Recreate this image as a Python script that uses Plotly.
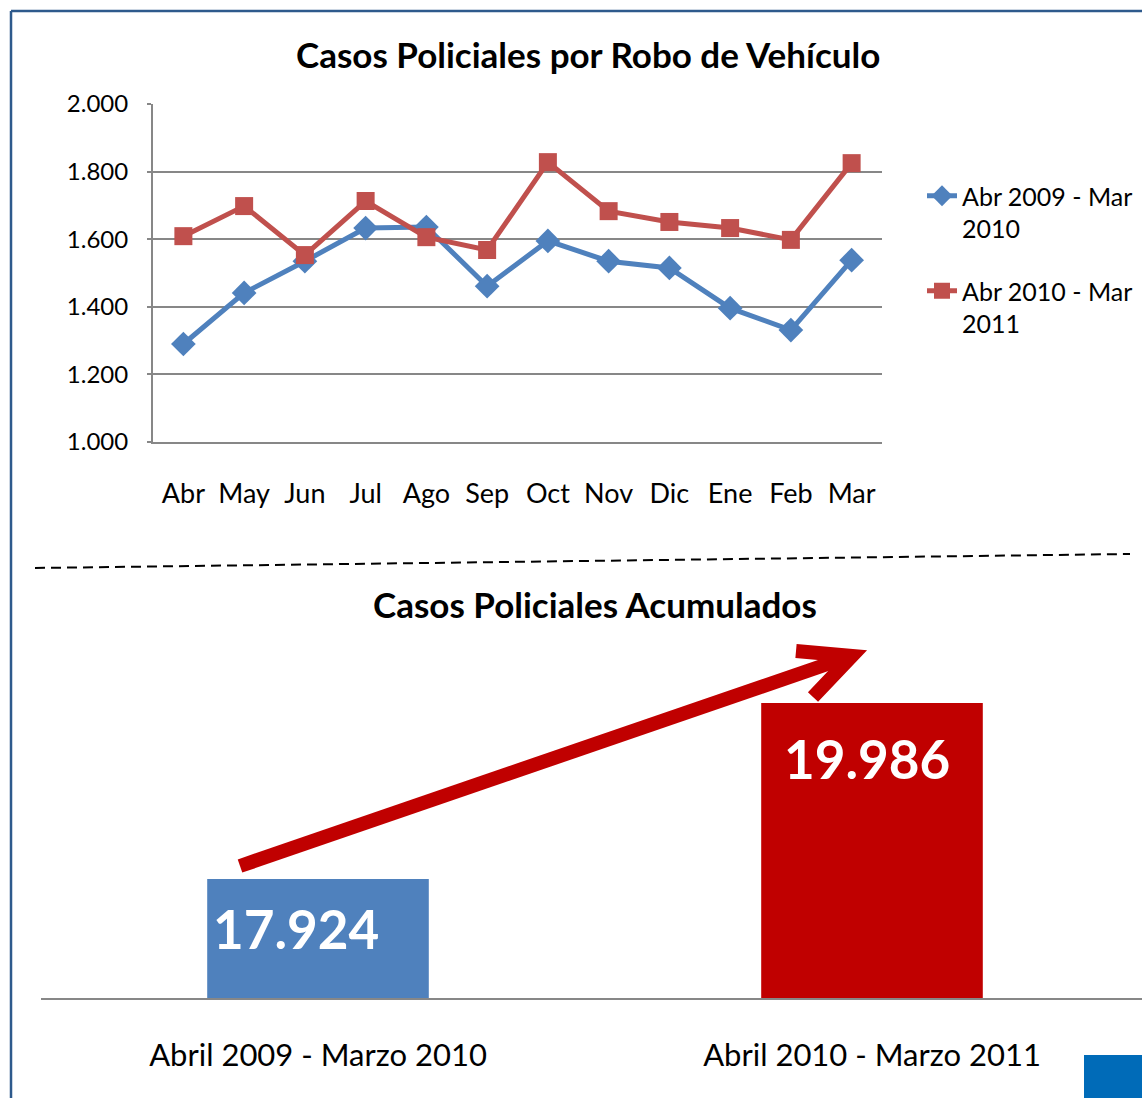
import plotly.graph_objects as go

W, H = 1142, 1098

# ---------------- data ----------------
meses = ["Abr", "May", "Jun", "Jul", "Ago", "Sep", "Oct", "Nov", "Dic", "Ene", "Feb", "Mar"]
serie_2009_2010 = [1290, 1441, 1535, 1633, 1636, 1461, 1595, 1535, 1515, 1396, 1331, 1538]
serie_2010_2011 = [1609, 1698, 1553, 1713, 1606, 1568, 1828, 1683, 1651, 1633, 1598, 1825]
nombres_series = ["Abr 2009 - Mar<br>2010", "Abr 2010 - Mar<br>2011"]

periodos = ["Abril 2009 - Marzo 2010", "Abril 2010 - Marzo 2011"]
acumulados = [17924, 19986]

titulo_1 = "Casos Policiales por Robo de Vehículo"
titulo_2 = "Casos Policiales Acumulados"

FONT = "Lato"
BLUE_L = "#4F81BD"
RED_L = "#C0504D"
BAR_COLORS = ["#4F81BD", "#C00000"]
GRID = "#878787"


def px(x):
    return x / W


def py(y):
    return 1 - y / H


fig = go.Figure()

fig.add_trace(go.Scatter(
    x=meses, y=serie_2009_2010, name=nombres_series[0], mode="lines+markers",
    line=dict(color=BLUE_L, width=5), marker=dict(symbol="diamond", size=19, color=BLUE_L),
    xaxis="x", yaxis="y", legendgroup="a"))
fig.add_trace(go.Scatter(
    x=meses, y=serie_2010_2011, name=nombres_series[1], mode="lines+markers",
    line=dict(color=RED_L, width=5), marker=dict(symbol="square", size=18, color=RED_L),
    xaxis="x", yaxis="y", legendgroup="b"))

fig.add_trace(go.Bar(
    x=periodos, y=acumulados, marker=dict(color=BAR_COLORS, line=dict(width=0)),
    width=0.4, xaxis="x2", yaxis="y2", showlegend=False, hoverinfo="x+y"))

# bottom axis scale (baseline at y=998px, 0.08536 px per unit)
base_val = 16530
scale = 0.08536
top_px = 640
y2_top = base_val + (998 - top_px) / scale

annotations = [
    dict(text=f"<b>{titulo_1}</b>", x=px(588), y=py(54), xref="paper", yref="paper",
         showarrow=False, font=dict(family=FONT, size=35, color="black"), xanchor="center", yanchor="middle"),
    dict(text=f"<b>{titulo_2}</b>", x=px(595), y=py(604), xref="paper", yref="paper",
         showarrow=False, font=dict(family=FONT, size=35, color="black"), xanchor="center", yanchor="middle"),
]

fmt = lambda v: f"{v:,}".replace(",", ".")
annotations.append(dict(text=f"<b>{fmt(acumulados[0])}</b>", x=periodos[0], y=acumulados[0],
                        xref="x2", yref="y2", xanchor="left", yanchor="middle", xshift=-107, yshift=-49,
                        showarrow=False, font=dict(family=FONT, size=53, color="white")))
annotations.append(dict(text=f"<b>{fmt(acumulados[1])}</b>", x=periodos[1], y=acumulados[1],
                        xref="x2", yref="y2", xanchor="center", yanchor="middle", xshift=-5, yshift=-55,
                        showarrow=False, font=dict(family=FONT, size=53, color="white")))

DK = "#C00000"
shapes = [
    # frame (top + left)
    dict(type="line", xref="paper", yref="paper", x0=px(11), y0=py(11), x1=px(1142), y1=py(11),
         line=dict(color="#2E5A8C", width=2.5)),
    dict(type="line", xref="paper", yref="paper", x0=px(11), y0=py(11), x1=px(11), y1=py(1098),
         line=dict(color="#2E5A8C", width=2.5)),
    # dashed separator
    dict(type="line", xref="paper", yref="paper", x0=px(35), y0=py(568), x1=px(1130), y1=py(554),
         line=dict(color="black", width=2, dash="10px,6px")),
    # arrow
    dict(type="path", xref="paper", yref="paper",
         path=f"M {px(240)},{py(866)} L {px(845)},{py(658)}",
         line=dict(color=DK, width=14)),
    dict(type="path", xref="paper", yref="paper",
         path=f"M {px(796)},{py(651)} L {px(852)},{py(656)} L {px(813)},{py(697)}",
         line=dict(color=DK, width=14)),
    # blue square bottom right
    dict(type="rect", xref="paper", yref="paper", x0=px(1084), y0=py(1098), x1=px(1142), y1=py(1055),
         fillcolor="#006BB8", line=dict(width=0)),
]

fig.update_layout(
    width=W, height=H, margin=dict(l=0, r=0, t=0, b=0, autoexpand=False),
    paper_bgcolor="white", plot_bgcolor="white",
    separators=",.",
    font=dict(family=FONT, color="black"),
    annotations=annotations, shapes=shapes,
    showlegend=True,
    legend=dict(x=px(922), y=py(173), xanchor="left", yanchor="top",
                font=dict(family=FONT, size=25, color="black"),
                traceorder="grouped", tracegroupgap=27, valign="top",
                bgcolor="rgba(0,0,0,0)"),
    xaxis=dict(domain=[px(153), px(882)], type="category", range=[-0.5, 11.5],
               showgrid=False, automargin=False,
               showline=True, linecolor=GRID, linewidth=2,
               ticks="outside", ticklen=27, tickcolor="rgba(0,0,0,0)",
               tickfont=dict(family=FONT, size=27, color="black"), anchor="y"),
    yaxis=dict(domain=[py(442), py(104)], range=[1000, 2000], dtick=200, automargin=False,
               tickformat=",.0f", showgrid=True, gridcolor=GRID, gridwidth=2,
               showline=True, linecolor=GRID, linewidth=2, zeroline=False,
               ticks="outside", ticklen=4, tickcolor=GRID, tickwidth=2,
               ticklabelstandoff=14,
               tickfont=dict(family=FONT, size=24, color="black"), anchor="x"),
    xaxis2=dict(domain=[px(41), 1], type="category", range=[-0.5, -0.5 + (1142 - 41) / 554],
                showgrid=False, showline=True, linecolor=GRID, linewidth=2, automargin=False,
                ticks="outside", ticklen=29, tickcolor="rgba(0,0,0,0)",
                tickfont=dict(family=FONT, size=31, color="black"), anchor="y2"),
    yaxis2=dict(domain=[py(998), py(top_px)], range=[base_val, y2_top], visible=False,
                automargin=False, anchor="x2"),
)

fig.write_html("out.html", config={"displayModeBar": False},
               post_script="document.body.style.margin='0';document.body.style.overflow='hidden';")
